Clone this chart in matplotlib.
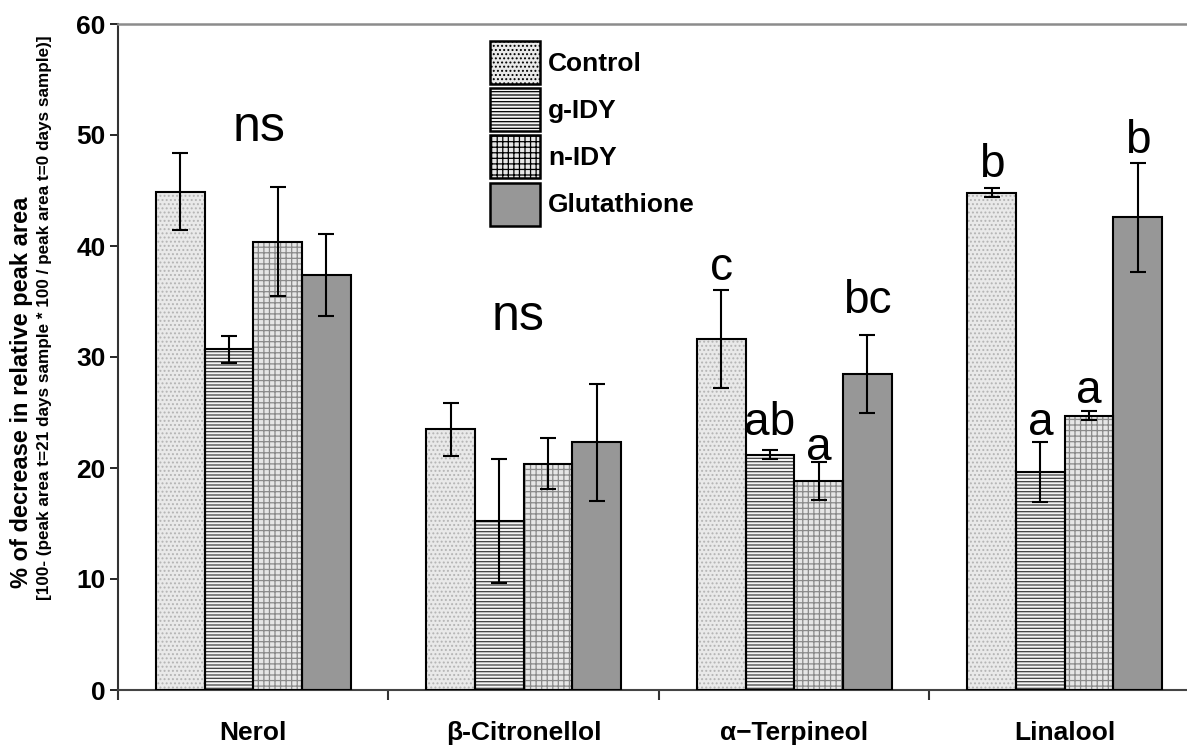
import matplotlib
matplotlib.use("Agg")
import matplotlib.pyplot as plt
import numpy as np
from matplotlib.patches import Patch

plt.rcParams['font.family'] = ['Liberation Sans', 'DejaVu Sans']

categories = ['Nerol', 'β-Citronellol', 'α\u2212Terpineol', 'Linalool']
series = ['Control', 'g-IDY', 'n-IDY', 'Glutathione']
values = {
    'Control':     [44.9, 23.5, 31.6, 44.8],
    'g-IDY':       [30.7, 15.2, 21.2, 19.6],
    'n-IDY':       [40.4, 20.4, 18.8, 24.7],
    'Glutathione': [37.4, 22.3, 28.5, 42.6],
}
errors = {
    'Control':     [3.5, 2.4, 4.4, 0.4],
    'g-IDY':       [1.2, 5.6, 0.4, 2.7],
    'n-IDY':       [4.9, 2.3, 1.7, 0.4],
    'Glutathione': [3.7, 5.3, 3.5, 4.9],
}
# significance letters: (category index, series index or None for group, text, y)
letters = [
    (0, None, 'ns', 49.5),
    (1, None, 'ns', 32.4),
    (2, 0, 'c', 36.9),
    (2, 1, 'ab', 23.0),
    (2, 2, 'a', 20.7),
    (2, 3, 'bc', 34.0),
    (3, 0, 'b', 46.2),
    (3, 1, 'a', 23.0),
    (3, 2, 'a', 25.9),
    (3, 3, 'b', 48.4),
]

styles = {
    'Control':     dict(fc='#e9e9e9', hatch='....', hc='#b4b4b4'),
    'g-IDY':       dict(fc='#f4f4f4', hatch='-----', hc='#404040'),
    'n-IDY':       dict(fc='#e6e6e6', hatch='+++', hc='#8a8a8a'),
    'Glutathione': dict(fc='#979797', hatch=None, hc='#979797'),
}

fig = plt.figure(figsize=(11.87, 7.49), dpi=100)
ax = fig.add_axes([118/1187, 59/749, 1082/1187, 666/749])

x = np.arange(len(categories))
bw = 0.18
plt.rcParams['hatch.linewidth'] = 0.9

for i, s in enumerate(series):
    pos = x + (i - 1.5) * bw
    st = styles[s]
    ax.bar(pos, values[s], bw, color=st['fc'], hatch=st['hatch'],
           edgecolor=st['hc'], linewidth=0, zorder=2)
    ax.bar(pos, values[s], bw, fill=False, edgecolor='black', linewidth=1.5, zorder=3)
    ax.errorbar(pos, values[s], yerr=errors[s], fmt='none', ecolor='black',
                elinewidth=1.5, capsize=6, capthick=1.5, zorder=4)

for ci, si, txt, yv in letters:
    if si is None:
        xp = x[ci] + (0.02 if ci == 0 else -0.02)
        fs = 36
    else:
        xp = x[ci] + (si - 1.5) * bw
        fs = 33
    ax.text(xp, yv, txt, ha='center', va='baseline', fontsize=fs, zorder=5)

ax.set_xlim(-0.5, 3.5)
ax.set_ylim(0, 60)
ax.set_yticks([0, 10, 20, 30, 40, 50, 60])
ax.tick_params(axis='y', labelsize=19, length=6, width=1.2, pad=3, direction='out')
for lab in ax.get_yticklabels():
    lab.set_fontweight('heavy')

ax.set_xticks([-0.5, 0.5, 1.5, 2.5, 3.5])
ax.set_xticklabels([])
ax.tick_params(axis='x', which='major', length=7, width=1.5, direction='out', color='#333333')
ax.set_xticks(x, minor=True)
ax.set_xticklabels(categories, minor=True, fontsize=19, fontweight='bold')
ax.tick_params(axis='x', which='minor', length=0, pad=22)

ax.spines['right'].set_visible(False)
ax.spines['top'].set_color('#8c8c8c')
ax.spines['top'].set_linewidth(1.8)
ax.spines['bottom'].set_color('#444444')
ax.spines['bottom'].set_linewidth(1.5)
ax.spines['left'].set_color('#333333')
ax.spines['left'].set_linewidth(1.5)

# legend
handles = []
for s in series:
    st = styles[s]
    handles.append(Patch(facecolor=st['fc'], hatch=st['hatch'], edgecolor='black',
                         linewidth=1.8, label=s))
leg = ax.legend(handles=handles, loc='upper left',
                bbox_to_anchor=(490/1187, 1 - 41/749), bbox_transform=fig.transFigure,
                frameon=False, prop=dict(size=19, weight='bold'),
                handlelength=1.9, handleheight=2.13, labelspacing=0.16,
                handletextpad=0.3, borderpad=0, borderaxespad=0)

fig.text(22/1187, 1 - 392/749, '% of decrease in relative peak area',
         rotation=90, ha='center', va='center', fontsize=17, fontweight='bold')
fig.text(45/1187, 1 - 318/749,
         '[100- (peak area t=21 days sample * 100 / peak area t=0 days sample)]',
         rotation=90, ha='center', va='center', fontsize=12.3, fontweight='bold',
         family=['Liberation Sans Narrow', 'Liberation Sans'], fontstretch='condensed')

fig.savefig('out.png', dpi=100)
